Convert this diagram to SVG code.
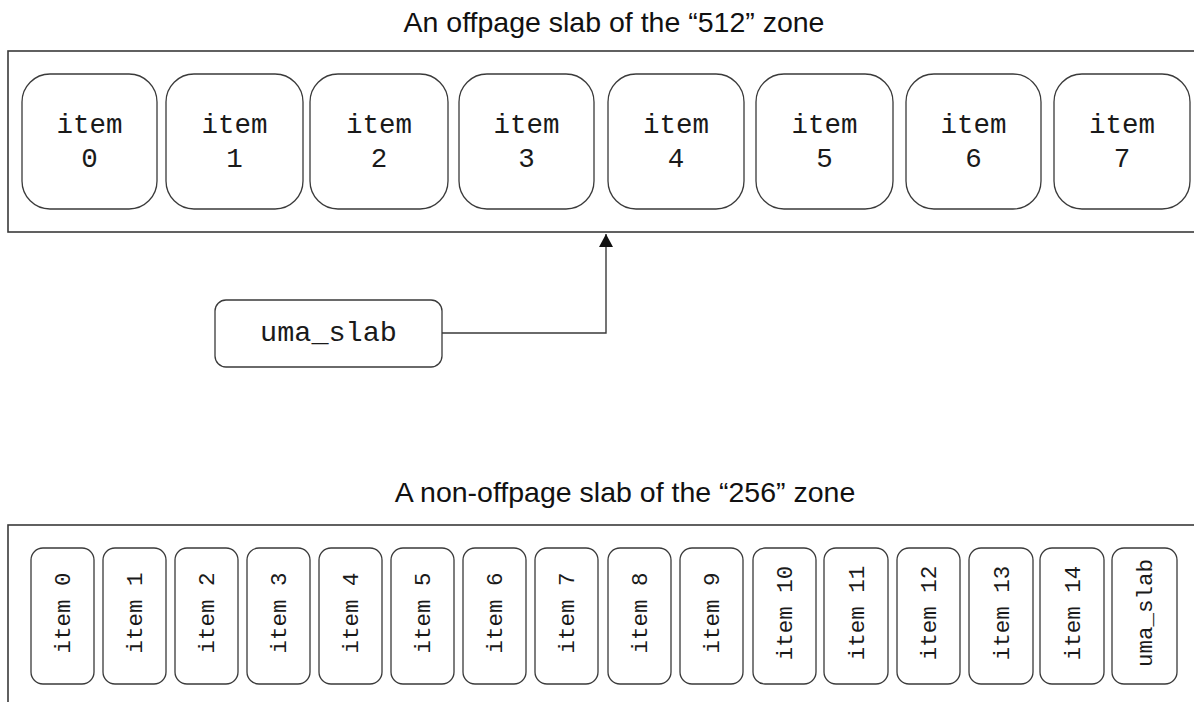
<svg xmlns="http://www.w3.org/2000/svg" width="1194" height="702" viewBox="0 0 1194 702">
<defs>
<style>
.frame{fill:none;stroke:#3a3a3a;stroke-width:1.6}
.box{fill:#fff;stroke:#3a3a3a;stroke-width:1.3}
.title{font-family:"Liberation Sans",Arial,sans-serif;font-size:28.5px;fill:#111;text-anchor:middle}
.mono{font-family:"Liberation Mono","Courier New",monospace;font-size:27.5px;fill:#1a1a1a;text-anchor:middle}
.vmono{font-family:"Liberation Mono","Courier New",monospace;font-size:22.5px;fill:#1a1a1a;text-anchor:middle}
.conn{fill:none;stroke:#3a3a3a;stroke-width:1.4}
</style>
<marker id="arrow" viewBox="0 0 14 20" refX="13" refY="10" markerWidth="14" markerHeight="20" markerUnits="userSpaceOnUse" orient="auto">
<path d="M0,3 L13,10 L0,17 Z" fill="#111"/>
</marker>
</defs>
<rect width="1194" height="702" fill="#fff"/>

<text class="title" x="614" y="32">An offpage slab of the “512” zone</text>
<text class="title" x="625" y="502">A non-offpage slab of the “256” zone</text>

<g id="offpage-slab">
<rect class="frame" x="8" y="51" width="1200" height="181"/>
</g>
<g id="o-item0"><rect class="box" x="22" y="74" width="135" height="135" rx="28"/><text class="mono" x="89.5" y="133">item</text><text class="mono" x="89.5" y="167">0</text></g>
<g id="o-item1"><rect class="box" x="166" y="74" width="137" height="135" rx="28"/><text class="mono" x="234.5" y="133">item</text><text class="mono" x="234.5" y="167">1</text></g>
<g id="o-item2"><rect class="box" x="310" y="74" width="138" height="135" rx="28"/><text class="mono" x="379" y="133">item</text><text class="mono" x="379" y="167">2</text></g>
<g id="o-item3"><rect class="box" x="459" y="74" width="135" height="135" rx="28"/><text class="mono" x="526.5" y="133">item</text><text class="mono" x="526.5" y="167">3</text></g>
<g id="o-item4"><rect class="box" x="608" y="74" width="136" height="135" rx="28"/><text class="mono" x="676" y="133">item</text><text class="mono" x="676" y="167">4</text></g>
<g id="o-item5"><rect class="box" x="756" y="74" width="137" height="135" rx="28"/><text class="mono" x="824.5" y="133">item</text><text class="mono" x="824.5" y="167">5</text></g>
<g id="o-item6"><rect class="box" x="906" y="74" width="135" height="135" rx="28"/><text class="mono" x="973.5" y="133">item</text><text class="mono" x="973.5" y="167">6</text></g>
<g id="o-item7"><rect class="box" x="1054" y="74" width="136" height="135" rx="28"/><text class="mono" x="1122" y="133">item</text><text class="mono" x="1122" y="167">7</text></g>

<g id="uma-slab"><rect class="box" x="215" y="300" width="227" height="67" rx="11"/><text class="mono" x="328.5" y="341" style="font-size:28.5px">uma_slab</text></g>

<g id="connectors">
<path class="conn" d="M442,333 H606 V234" marker-end="url(#arrow)"/>
</g>

<g id="nonoffpage-slab">
<rect class="frame" x="8" y="525" width="1200" height="200"/>
</g>
<g id="n-item0"><rect class="box" x="31" y="548" width="63" height="136" rx="12"/><text class="vmono" transform="translate(70,613) rotate(-90)">item 0</text></g>
<g id="n-item1"><rect class="box" x="103" y="548" width="63" height="136" rx="12"/><text class="vmono" transform="translate(142,613) rotate(-90)">item 1</text></g>
<g id="n-item2"><rect class="box" x="175" y="548" width="63" height="136" rx="12"/><text class="vmono" transform="translate(214,613) rotate(-90)">item 2</text></g>
<g id="n-item3"><rect class="box" x="247" y="548" width="63" height="136" rx="12"/><text class="vmono" transform="translate(286,613) rotate(-90)">item 3</text></g>
<g id="n-item4"><rect class="box" x="319" y="548" width="63" height="136" rx="12"/><text class="vmono" transform="translate(358,613) rotate(-90)">item 4</text></g>
<g id="n-item5"><rect class="box" x="391" y="548" width="63" height="136" rx="12"/><text class="vmono" transform="translate(430,613) rotate(-90)">item 5</text></g>
<g id="n-item6"><rect class="box" x="463" y="548" width="63" height="136" rx="12"/><text class="vmono" transform="translate(502,613) rotate(-90)">item 6</text></g>
<g id="n-item7"><rect class="box" x="535" y="548" width="63" height="136" rx="12"/><text class="vmono" transform="translate(574,613) rotate(-90)">item 7</text></g>
<g id="n-item8"><rect class="box" x="608" y="548" width="63" height="136" rx="12"/><text class="vmono" transform="translate(647,613) rotate(-90)">item 8</text></g>
<g id="n-item9"><rect class="box" x="680" y="548" width="63" height="136" rx="12"/><text class="vmono" transform="translate(719,613) rotate(-90)">item 9</text></g>
<g id="n-item10"><rect class="box" x="753" y="548" width="63" height="136" rx="12"/><text class="vmono" transform="translate(792,613) rotate(-90)">item 10</text></g>
<g id="n-item11"><rect class="box" x="824" y="548" width="64" height="136" rx="12"/><text class="vmono" transform="translate(863.5,613) rotate(-90)">item 11</text></g>
<g id="n-item12"><rect class="box" x="897" y="548" width="63" height="136" rx="12"/><text class="vmono" transform="translate(936,613) rotate(-90)">item 12</text></g>
<g id="n-item13"><rect class="box" x="969" y="548" width="64" height="136" rx="12"/><text class="vmono" transform="translate(1008.5,613) rotate(-90)">item 13</text></g>
<g id="n-item14"><rect class="box" x="1040" y="548" width="64" height="136" rx="12"/><text class="vmono" transform="translate(1079.5,613) rotate(-90)">item 14</text></g>
<g id="n-uma-slab"><rect class="box" x="1112" y="548" width="65" height="136" rx="12"/><text class="vmono" transform="translate(1152,613) rotate(-90)">uma_slab</text></g>
</svg>
